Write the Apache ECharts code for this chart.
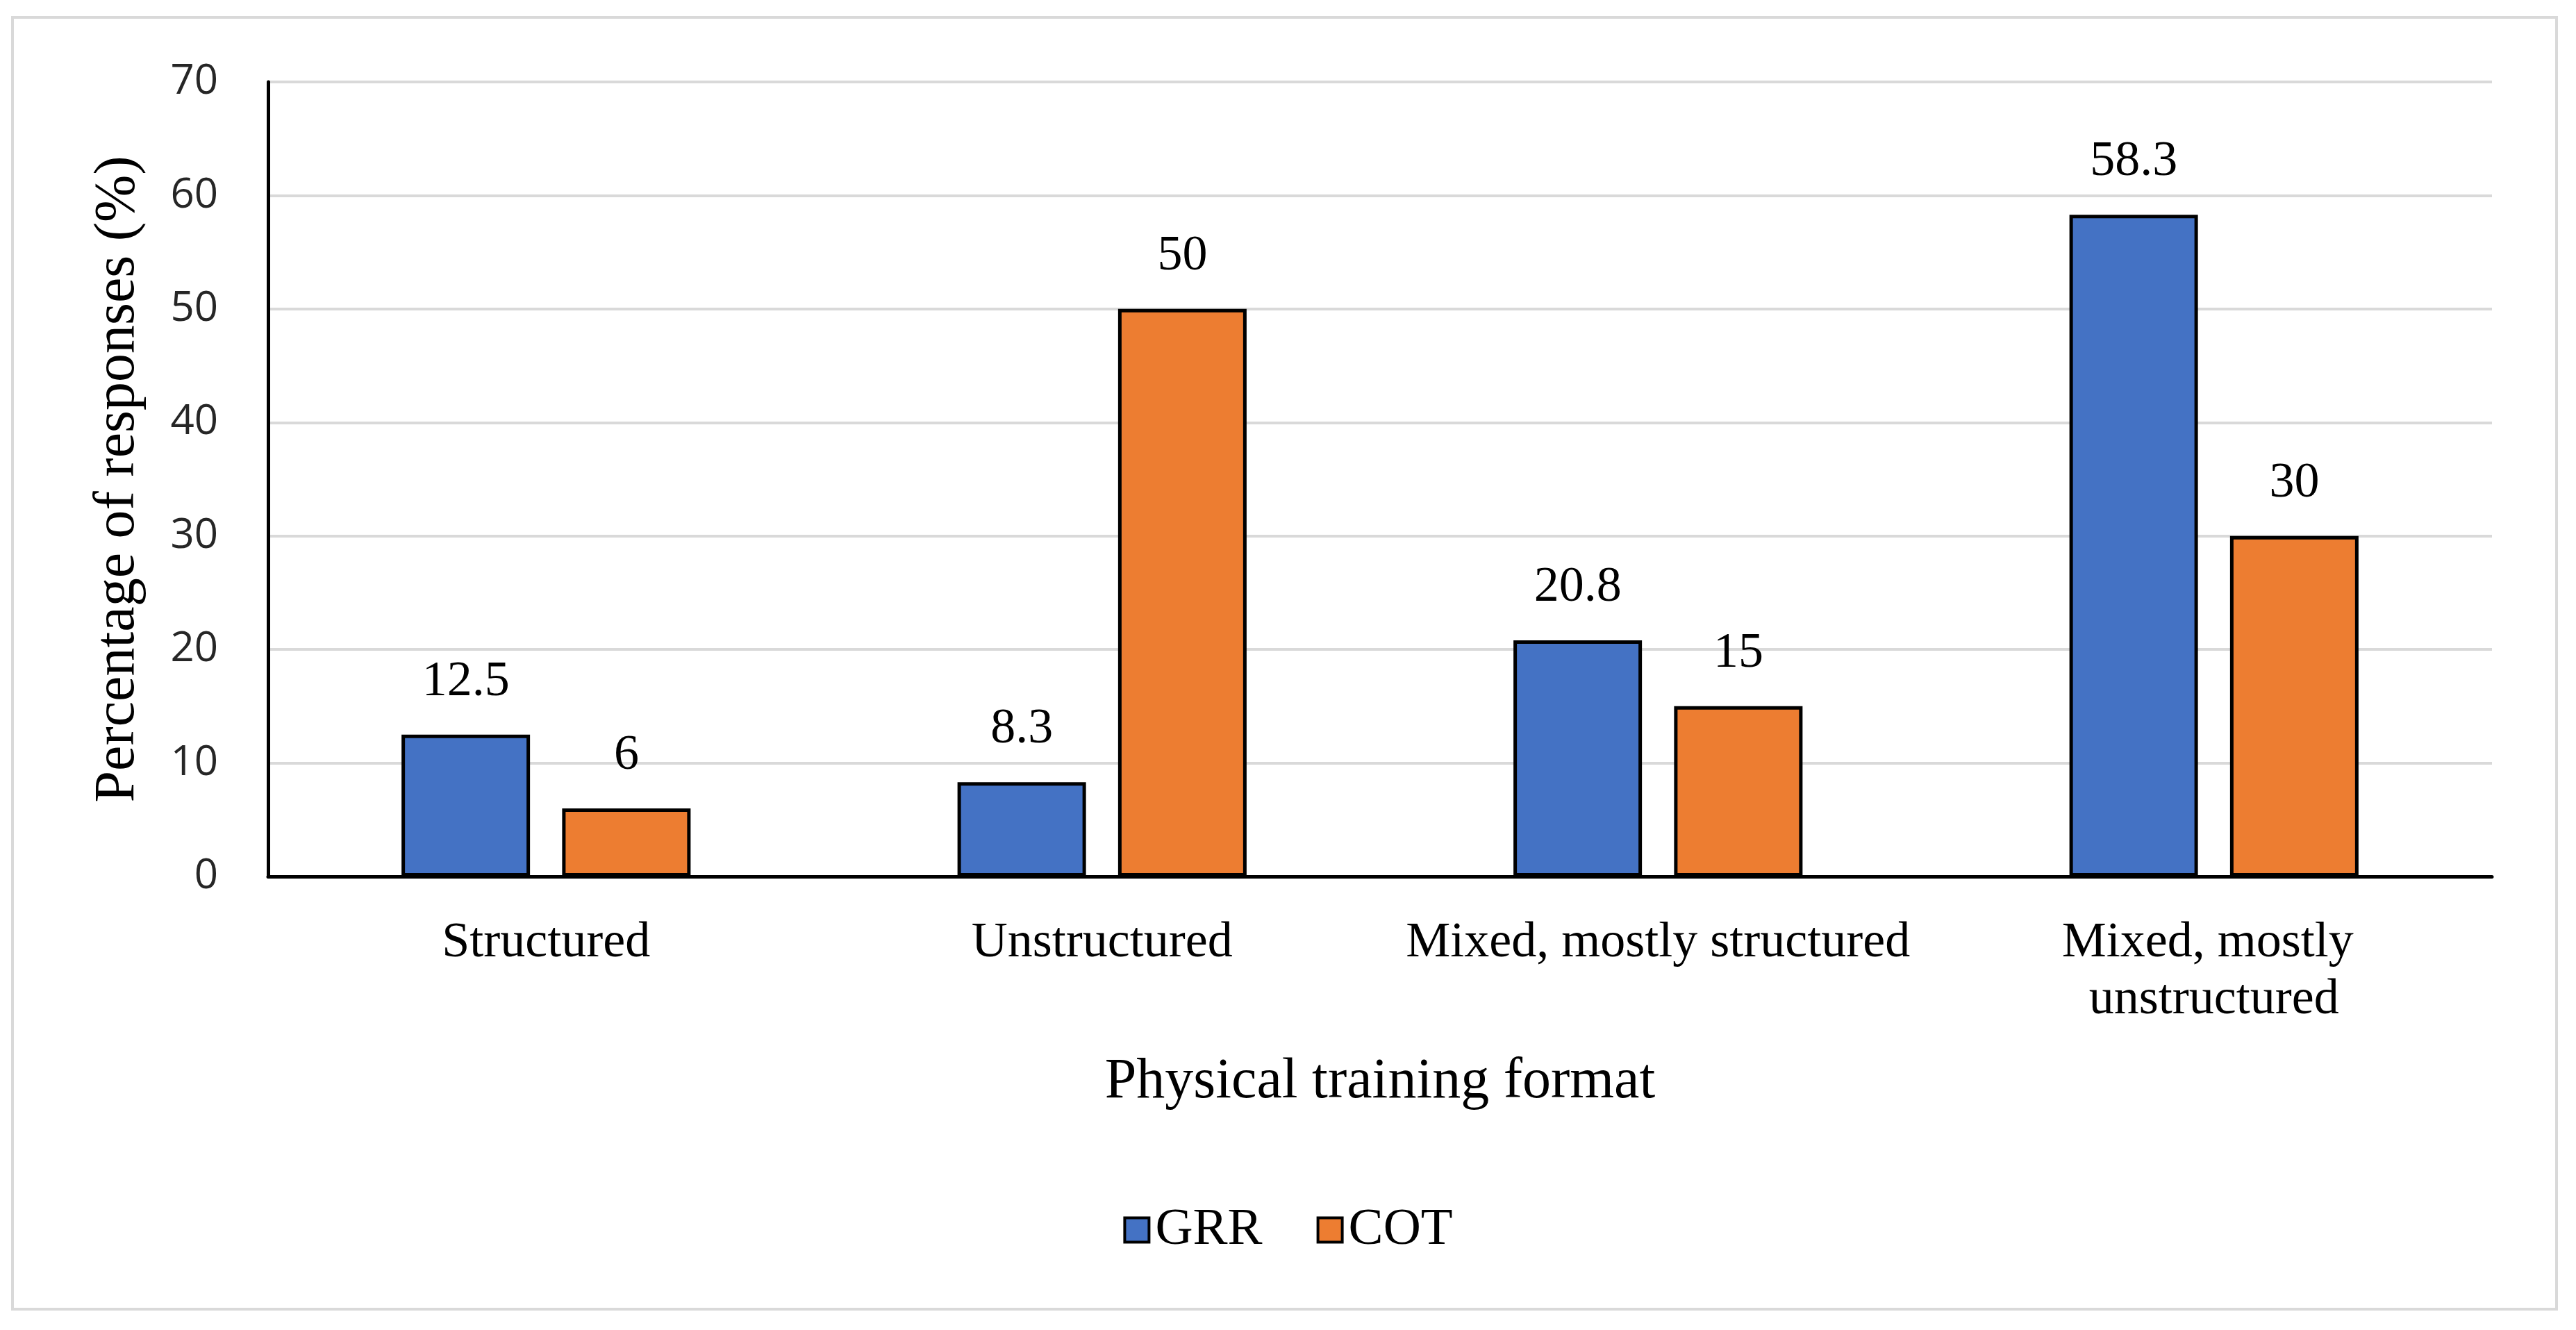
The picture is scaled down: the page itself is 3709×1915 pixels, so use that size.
<!DOCTYPE html>
<html>
<head>
<meta charset="utf-8">
<script src="https://cdn.jsdelivr.net/npm/echarts@6/dist/echarts.min.js"></script>
<style>
html,body{margin:0;padding:0;background:#fff;}
#chart{width:3709px;height:1915px;}
</style>
</head>
<body>
<div id="chart"></div>
<script>
const categories = ["Structured", "Unstructured", "Mixed, mostly structured", "Mixed, mostly unstructured"];
const seriesNames = ["GRR", "COT"];
const grrValues = [12.5, 8.3, 20.8, 58.3];
const cotValues = [6, 50, 15, 30];
const yTicks = [0, 10, 20, 30, 40, 50, 60, 70];
const xTitle = "Physical training format";
const yTitle = "Percentage of responses (%)";

const serif = "'Liberation Serif', 'Times New Roman', serif";
const chart = echarts.init(document.getElementById('chart'));
function makeLabel() {
  return {
    show: true, position: 'top', distance: 40,
    fontFamily: serif, fontSize: 72, color: '#000', fontWeight: 'normal'
  };
}
chart.setOption({
  animation: false,
  backgroundColor: '#fff',
  textStyle: {fontFamily: serif},
  graphic: [{
    type: 'rect', z: -10,
    shape: {x: 18, y: 25, width: 3663, height: 1860},
    style: {fill: 'none', stroke: '#d9d9d9', lineWidth: 4}
  }],
  grid: {left: 386, right: 121, top: 118, bottom: 653},
  legend: {
    data: seriesNames,
    left: 'center', top: 1727,
    itemWidth: 35, itemHeight: 35, itemGap: 78,
    icon: 'rect',
    itemStyle: {borderColor: '#000', borderWidth: 4},
    textStyle: {fontFamily: serif, fontSize: 75, color: '#000', lineHeight: 78, padding: [0, 0, 0, 4]}
  },
  xAxis: {
    type: 'category',
    data: categories,
    name: xTitle,
    nameLocation: 'middle',
    nameGap: 255,
    nameTextStyle: {fontFamily: serif, fontSize: 82, color: '#000'},
    axisLine: {lineStyle: {color: '#000', width: 5}},
    axisTick: {show: false},
    axisLabel: {
      fontFamily: serif, fontSize: 72, color: '#000', margin: 55,
      lineHeight: 82, width: 760, overflow: 'break', interval: 0
    }
  },
  yAxis: {
    type: 'value',
    min: 0, max: 70, interval: 10,
    name: yTitle,
    nameLocation: 'middle',
    nameGap: 175,
    nameTextStyle: {fontFamily: serif, fontSize: 82, color: '#000'},
    axisLine: {show: true, lineStyle: {color: '#000', width: 5}},
    axisTick: {show: false},
    splitLine: {lineStyle: {color: '#d9d9d9', width: 4}},
    axisLabel: {
      fontFamily: 'Open Sans', fontSize: 60, color: '#262626', margin: 72,
      formatter: v => yTicks.includes(v) ? String(v) : ''
    }
  },
  series: [
    {
      name: seriesNames[0], type: 'bar', data: grrValues,
      barWidth: 185, barGap: '25%',
      itemStyle: {color: '#4472C4', borderColor: '#000', borderWidth: 5},
      label: makeLabel()
    },
    {
      name: seriesNames[1], type: 'bar', data: cotValues,
      barWidth: 185, barGap: '25%',
      itemStyle: {color: '#ED7D31', borderColor: '#000', borderWidth: 5},
      label: makeLabel()
    }
  ]
});
</script>
</body>
</html>
